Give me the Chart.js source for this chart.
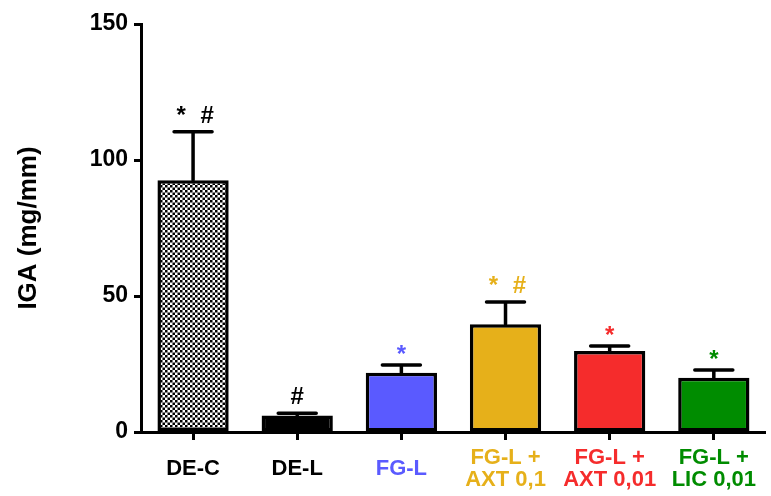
<!DOCTYPE html>
<html>
<head>
<meta charset="utf-8">
<title>IGA</title>
<script src="https://cdn.jsdelivr.net/npm/chart.js@4"></script>
<style>
  html, body { margin: 0; padding: 0; background: #fff; overflow: hidden; }
  #wrap { width: 774px; height: 496px; }
</style>
</head>
<body>
<div id="wrap"><canvas id="chart"></canvas></div>
<script>
// groups, means and SEM (mg/mm)
const groups = [['DE-C'], ['DE-L'], ['FG-L'], ['FG-L +', 'AXT 0,1'], ['FG-L +', 'AXT 0,01'], ['FG-L +', 'LIC 0,01']];
const means  = [92.6, 6.1, 21.8, 39.6, 29.8, 19.9];
const sems   = [17.8, 0.8, 2.8, 8.2, 1.8, 2.9];
const marks  = ['* #', '#', '*', '* #', '*', '*'];
const yTicks = [0, 50, 100, 150];

const FONT = "'Liberation Sans', Arial, sans-serif";
const COLORS = ['#000000', '#000000', '#5a5aff', '#e6b01a', '#f52c2c', '#008c00'];

// fine black/white checkerboard for the control bar
function checker() {
  const c = document.createElement('canvas');
  c.width = 5; c.height = 5;
  const g = c.getContext('2d');
  g.fillStyle = '#fff';
  g.fillRect(0, 0, 5, 5);
  g.fillStyle = '#000';
  g.fillRect(0, 0, 2.5, 2.5);
  g.fillRect(2.5, 2.5, 2.5, 2.5);
  return g.createPattern(c, 'repeat');
}

const fills = COLORS.map((c, i) => i === 0 ? checker() : c);

// upward SEM whiskers plus significance marks above them
const errorBars = {
  id: 'errorBars',
  afterDatasetsDraw(chart) {
    const { ctx, scales: { y } } = chart;
    const bars = chart.getDatasetMeta(0).data;
    ctx.save();
    bars.forEach((bar, i) => {
      const top = y.getPixelForValue(means[i] + sems[i]);
      ctx.strokeStyle = '#000';
      ctx.lineWidth = 3.5;
      ctx.lineCap = 'round';
      ctx.beginPath();
      ctx.moveTo(bar.x, bar.y);
      ctx.lineTo(bar.x, top);
      ctx.moveTo(bar.x - 19, top);
      ctx.lineTo(bar.x + 19, top);
      ctx.stroke();

      const m = marks[i].split(' ');
      ctx.fillStyle = COLORS[i];
      ctx.font = 'bold 24px ' + FONT;
      ctx.textAlign = 'center';
      ctx.textBaseline = 'alphabetic';
      const base = marks[i].includes('#') ? top - 9 : top - 3;
      if (m.length === 2) {
        ctx.fillText(m[0], bar.x - 12, base);
        ctx.fillText(m[1], bar.x + 14, base);
      } else {
        ctx.fillText(m[0], bar.x, base);
      }
    });
    ctx.restore();
  }
};

new Chart(document.getElementById('chart'), {
  type: 'bar',
  data: {
    labels: groups,
    datasets: [{
      data: means,
      backgroundColor: fills,
      borderColor: '#000',
      borderWidth: 3.5,
      borderSkipped: false,
      barPercentage: 0.684,
      categoryPercentage: 1,
    }],
  },
  options: {
    responsive: true,
    maintainAspectRatio: false,
    animation: false,
    layout: { padding: { top: 24, right: 0, bottom: 0, left: 0 } },
    plugins: {
      legend: { display: false },
      tooltip: { enabled: false },
    },
    scales: {
      x: {
        grid: { drawOnChartArea: false, offset: false, tickLength: 8, tickWidth: 3, tickColor: '#000' },
        border: { display: true, color: '#000', width: 3 },
        ticks: {
          font: { family: FONT, size: 22, weight: 'bold', lineHeight: 1.0 },
          color: c => COLORS[c.index],
          padding: 18,
          crossAlign: 'center',
          maxRotation: 0,
          autoSkip: false,
        },
        afterFit: s => { s.height = 64; },
      },
      y: {
        min: 0,
        max: 150,
        afterBuildTicks: s => { s.ticks = yTicks.map(v => ({ value: v })); },
        grid: { drawOnChartArea: false, tickLength: 7, tickWidth: 3, tickColor: '#000' },
        border: { display: true, color: '#000', width: 3 },
        ticks: {
          font: { family: FONT, size: 23, weight: 'bold' },
          color: '#000',
          padding: 6,
        },
        title: {
          display: true,
          text: 'IGA (mg/mm)',
          font: { family: FONT, size: 26, weight: 'bold' },
          color: '#000',
          padding: { top: 13, bottom: 0 },
        },
        afterFit: s => { s.width = 141; },
      },
    },
  },
  plugins: [errorBars],
});
</script>
</body>
</html>
